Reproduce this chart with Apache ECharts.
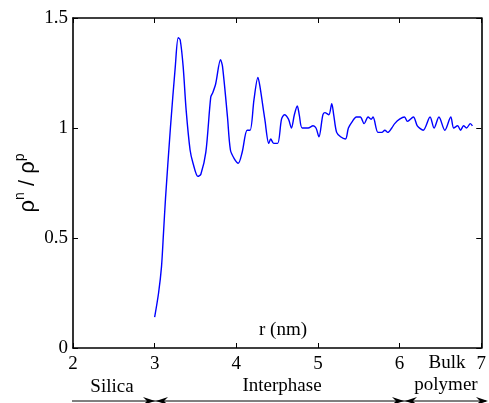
<!DOCTYPE html>
<html>
<head>
<meta charset="utf-8">
<script src="https://cdn.jsdelivr.net/npm/echarts@6/dist/echarts.min.js"></script>
<style>
html,body{margin:0;padding:0;background:#fff;}
#chart{width:489px;height:403px;}
</style>
</head>
<body>
<div id="chart"></div>
<script>
var rValues = [3.000,3.048,3.084,3.108,3.133,3.193,3.253,3.289,3.313,3.349,3.386,3.434,3.470,3.530,3.566,3.627,3.687,3.711,3.747,3.807,3.831,3.892,3.928,3.976,4.024,4.072,4.133,4.169,4.217,4.265,4.289,4.337,4.349,4.398,4.422,4.458,4.506,4.554,4.590,4.639,4.675,4.711,4.747,4.771,4.807,4.880,4.940,4.976,5.012,5.060,5.084,5.133,5.169,5.193,5.229,5.277,5.337,5.373,5.422,5.470,5.518,5.566,5.614,5.651,5.675,5.735,5.783,5.819,5.855,5.904,5.940,6.000,6.060,6.096,6.169,6.217,6.289,6.373,6.422,6.482,6.554,6.627,6.663,6.711,6.747,6.783,6.819,6.867,6.892];
var densityRatio = [0.14,0.25,0.37,0.52,0.68,1.00,1.28,1.41,1.40,1.28,1.08,0.90,0.84,0.78,0.79,0.89,1.14,1.16,1.20,1.31,1.28,1.05,0.90,0.86,0.84,0.89,0.99,0.99,1.13,1.23,1.19,1.07,1.04,0.93,0.95,0.93,0.93,1.04,1.06,1.04,1.00,1.06,1.10,1.06,1.00,1.00,1.01,1.00,0.96,1.06,1.07,1.06,1.11,1.06,0.98,0.96,0.95,1.00,1.03,1.05,1.05,1.02,1.05,1.04,1.05,0.98,0.98,0.99,0.98,1.00,1.02,1.04,1.05,1.03,1.05,1.01,0.99,1.05,1.00,1.05,0.99,1.05,1.00,1.01,0.99,1.01,1.00,1.02,1.01];
var xTicks = [2,3,4,5,6,7];
var yTicks = [0,0.5,1,1.5];
var regionNames = ['Silica','Interphase','Bulk','polymer'];

var chart = echarts.init(document.getElementById('chart'), null, {renderer:'canvas'});
var serif = '"Liberation Serif","Times New Roman",serif';
var axisCommon = {
  axisLine:{show:true,onZero:false,lineStyle:{color:'#000',width:1.6}},
  axisTick:{show:true,inside:true,length:5,lineStyle:{color:'#000',width:1}},
  splitLine:{show:false}
};
var data = rValues.map(function(r,i){return [r,densityRatio[i]];});
var option = {
  animation:false,
  backgroundColor:'#fff',
  grid:{left:73,top:18,width:415,height:330},
  xAxis:[
    Object.assign({type:'value',min:xTicks[0],max:xTicks[xTicks.length-1],interval:1,position:'bottom',
      axisLabel:{color:'#000',fontFamily:serif,fontSize:19,margin:7}},axisCommon),
    Object.assign({type:'value',min:xTicks[0],max:xTicks[xTicks.length-1],interval:1,position:'top',
      axisLabel:{show:false}},axisCommon)
  ],
  yAxis:[
    Object.assign({type:'value',min:yTicks[0],max:yTicks[yTicks.length-1],interval:0.5,position:'left',
      axisLabel:{color:'#000',fontFamily:serif,fontSize:19,margin:5,
        formatter:function(v){return String(v);}}},axisCommon),
    Object.assign({type:'value',min:yTicks[0],max:yTicks[yTicks.length-1],interval:0.5,position:'right',
      axisLabel:{show:false}},axisCommon)
  ],
  series:[{
    type:'line',xAxisIndex:0,yAxisIndex:0,data:data,showSymbol:false,smooth:0.3,
    lineStyle:{color:'#0000ff',width:1.4}
  }],
  graphic:[
    {type:'text',x:283,y:330,style:{text:'r (nm)',font:'19px '+serif,fill:'#000',align:'center',verticalAlign:'middle'}},
    {type:'text',x:26,y:183,rotation:Math.PI/2,
      style:{text:'{a|ρ}{s|n}{a| / ρ}{s|p}',align:'center',verticalAlign:'middle',
        rich:{a:{fontFamily:'"Liberation Sans",Arial,sans-serif',fontSize:22,fill:'#000',lineHeight:26,verticalAlign:'bottom'},
              s:{fontFamily:'"Liberation Sans",Arial,sans-serif',fontSize:14,fill:'#000',lineHeight:26,verticalAlign:'top'}}}},
    {type:'text',x:112,y:387,style:{text:regionNames[0],font:'19px '+serif,fill:'#000',align:'center',verticalAlign:'middle'}},
    {type:'text',x:282,y:386,style:{text:regionNames[1],font:'19px '+serif,fill:'#000',align:'center',verticalAlign:'middle'}},
    {type:'text',x:447,y:363,style:{text:regionNames[2],font:'19px '+serif,fill:'#000',align:'center',verticalAlign:'middle'}},
    {type:'text',x:446,y:385,style:{text:regionNames[3],font:'19px '+serif,fill:'#000',align:'center',verticalAlign:'middle'}},
    {type:'line',shape:{x1:72,y1:401,x2:486,y2:401},style:{stroke:'#000',lineWidth:1}},
    {type:'polygon',shape:{points:[[143,397],[155,401],[143,405],[147,401]]},style:{fill:'#000'}},
    {type:'polygon',shape:{points:[[168,397],[156,401],[168,405],[164,401]]},style:{fill:'#000'}},
    {type:'polygon',shape:{points:[[392,397],[404,401],[392,405],[396,401]]},style:{fill:'#000'}},
    {type:'polygon',shape:{points:[[417,397],[405,401],[417,405],[413,401]]},style:{fill:'#000'}},
    {type:'polygon',shape:{points:[[476,397],[488,401],[476,405],[480,401]]},style:{fill:'#000'}}
  ]
};
chart.setOption(option);
</script>
</body>
</html>
